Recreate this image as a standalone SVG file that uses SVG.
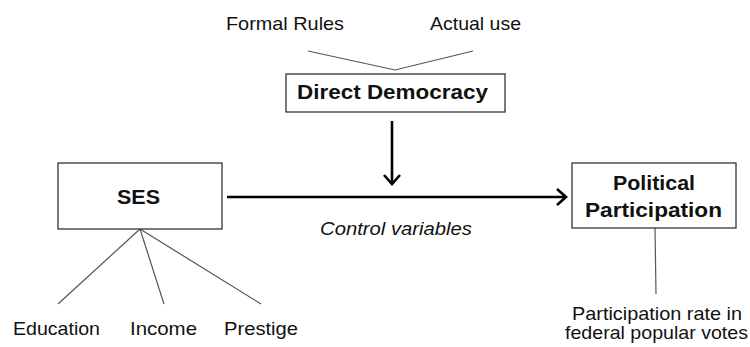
<svg xmlns="http://www.w3.org/2000/svg" width="750" height="347" viewBox="0 0 750 347">
<style>
  text { font-family: "Liberation Sans", Arial, sans-serif; fill: #111; }
  .lbl { font-size: 18.5px; }
  .bold { font-size: 19.5px; font-weight: bold; }
  .box { fill: #fff; stroke: #333; stroke-width: 1.3; }
  .thin { stroke: #555; stroke-width: 1.2; fill: none; }
  .arrow { stroke: #000; stroke-width: 2.6; fill: none; }
  .head { stroke: #000; stroke-width: 2.6; fill: none; stroke-linejoin: miter; }
</style>
<rect width="750" height="347" fill="#fff"/>
<g id="connectors">
  <polyline class="thin" points="308,51 395,70 473,51"/>
  <line class="thin" x1="140" y1="229" x2="58" y2="304"/>
  <line class="thin" x1="140" y1="229" x2="164" y2="304"/>
  <line class="thin" x1="140" y1="229" x2="261" y2="304"/>
  <line class="thin" x1="655" y1="228" x2="656" y2="294"/>
  <line class="arrow" x1="392" y1="121" x2="392" y2="183"/>
  <polyline class="head" points="384,175 392,184 400,175"/>
  <line class="arrow" x1="227" y1="197" x2="566" y2="197"/>
  <polyline class="head" points="557,189 566,197 557,205"/>
</g>
<g id="formal-rules"><text class="lbl" x="226" y="30" textLength="118" lengthAdjust="spacingAndGlyphs">Formal Rules</text></g>
<g id="actual-use"><text class="lbl" x="430" y="30" textLength="91" lengthAdjust="spacingAndGlyphs">Actual use</text></g>
<g id="direct-democracy">
  <rect class="box" x="286" y="74" width="219" height="38"/>
  <text class="bold" x="297" y="99" textLength="191" lengthAdjust="spacingAndGlyphs">Direct Democracy</text>
</g>
<g id="ses">
  <rect class="box" x="58" y="163" width="164" height="66"/>
  <text class="bold" x="117" y="204" textLength="43" lengthAdjust="spacingAndGlyphs">SES</text>
</g>
<g id="political-participation">
  <rect class="box" x="572" y="163" width="164" height="65"/>
  <text class="bold" x="613" y="190" textLength="82" lengthAdjust="spacingAndGlyphs">Political</text>
  <text class="bold" x="585" y="217" textLength="137" lengthAdjust="spacingAndGlyphs">Participation</text>
</g>
<g id="control-variables"><text class="lbl" x="320" y="235" font-style="italic" textLength="152" lengthAdjust="spacingAndGlyphs">Control variables</text></g>
<g id="education"><text class="lbl" x="13" y="335" textLength="87" lengthAdjust="spacingAndGlyphs">Education</text></g>
<g id="income"><text class="lbl" x="130" y="335" textLength="67" lengthAdjust="spacingAndGlyphs">Income</text></g>
<g id="prestige"><text class="lbl" x="224" y="335" textLength="74" lengthAdjust="spacingAndGlyphs">Prestige</text></g>
<g id="participation-rate">
  <text class="lbl" x="572" y="320" textLength="170" lengthAdjust="spacingAndGlyphs">Participation rate in</text>
  <text class="lbl" x="565" y="339" textLength="183" lengthAdjust="spacingAndGlyphs">federal popular votes</text>
</g>
</svg>
